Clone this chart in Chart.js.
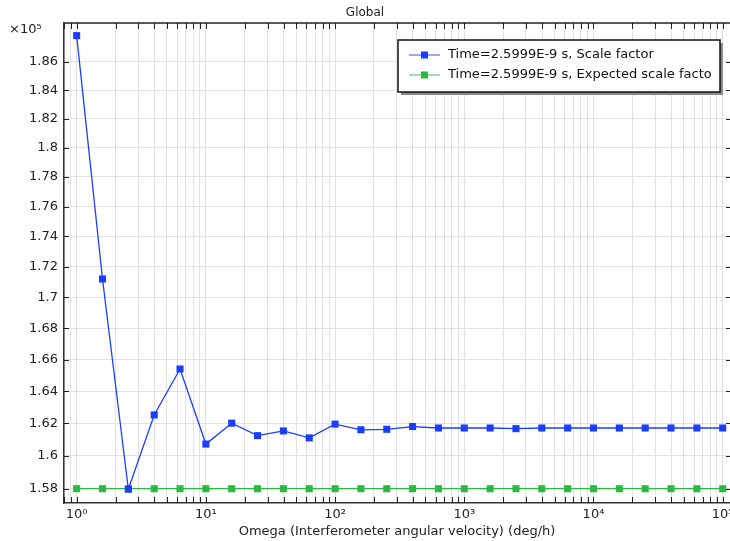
<!DOCTYPE html>
<html>
<head>
<meta charset="utf-8">
<script src="https://cdn.jsdelivr.net/npm/chart.js@4/dist/chart.umd.min.js"></script>
<style>
  body { margin: 0; background: #fff; }
  canvas { display: block; }
</style>
</head>
<body>
<canvas id="globalChart" width="730" height="541"></canvas>
<script>
// Omega values (deg/h), five per decade
const omega = [1, 1.585, 2.512, 3.981, 6.31, 10, 15.85, 25.12, 39.81, 63.1,
  100, 158.5, 251.2, 398.1, 631, 1000, 1585, 2512, 3981, 6310,
  10000, 15850, 25120, 39810, 63100, 100000];

const scaleFactor = [187880, 171190, 157970, 162520, 165400, 160720, 162010, 161240, 161530, 161100,
  161950, 161600, 161630, 161800, 161710, 161710, 161710, 161670, 161710, 161710,
  161710, 161710, 161710, 161710, 161710, 161710];

const expectedScale = [158000, 158000, 158000, 158000, 158000, 158000, 158000, 158000, 158000, 158000,
  158000, 158000, 158000, 158000, 158000, 158000, 158000, 158000, 158000, 158000,
  158000, 158000, 158000, 158000, 158000, 158000];

const seriesLabels = ['Time=2.5999E-9 s, Scale factor', 'Time=2.5999E-9 s, Expected scale factor'];
const seriesColors = ['#1a3dff', '#2bb93f'];

const yTicks = [158000, 160000, 162000, 164000, 166000, 168000, 170000, 172000,
  174000, 176000, 178000, 180000, 182000, 184000, 186000];
const xDecades = [1, 10, 100, 1000, 10000, 100000];
const xDecadeLabels = ['10⁰', '10¹', '10²', '10³', '10⁴', '10⁵'];

const FONT = 'DejaVu Sans';

function buildXTicks(min, max) {
  let ticks = [];
  for (let e = -1; e <= 5; e++) {
    for (let m = 1; m <= 9; m++) {
      let v = m * Math.pow(10, e);
      if (v >= min && v <= max) ticks.push({ value: v, major: m === 1 });
    }
  }
  return ticks;
}

function toPoints(xs, ys) {
  return xs.map((x, i) => ({ x: x, y: ys[i] }));
}

// frame, inner tick marks, x labels, the x10^5 note and the boxed legend
const decorPlugin = {
  id: 'decor',
  afterDraw(chart) {
    const ctx = chart.ctx;
    const area = chart.chartArea;
    const xs = chart.scales.x;
    const ys = chart.scales.y;
    ctx.save();
    ctx.strokeStyle = '#222';
    ctx.lineWidth = 1;
    xs.ticks.forEach(t => {
      let px = Math.round(xs.getPixelForValue(t.value)) + 0.5;
      ctx.beginPath();
      ctx.moveTo(px, area.bottom);
      ctx.lineTo(px, area.bottom - 6);
      ctx.moveTo(px, area.top);
      ctx.lineTo(px, area.top + 6);
      ctx.stroke();
    });
    ys.ticks.forEach(t => {
      let py = Math.round(ys.getPixelForValue(t.value)) + 0.5;
      ctx.beginPath();
      ctx.moveTo(area.left, py);
      ctx.lineTo(area.left + 5, py);
      ctx.moveTo(area.right, py);
      ctx.lineTo(area.right - 4, py);
      ctx.stroke();
    });
    // top frame line
    ctx.lineWidth = 1.5;
    ctx.beginPath();
    ctx.moveTo(area.left, area.top);
    ctx.lineTo(area.right, area.top);
    ctx.stroke();

    ctx.fillStyle = '#222';
    ctx.font = '13px "' + FONT + '"';
    ctx.textBaseline = 'top';
    ctx.textAlign = 'center';
    xDecades.forEach((v, i) => {
      ctx.fillText(xDecadeLabels[i], xs.getPixelForValue(v), area.bottom + 5);
    });

    ctx.textAlign = 'left';
    ctx.textBaseline = 'middle';
    ctx.fillText('×10⁵', 9, 30);

    // legend
    const bx = 398, by = 40, bw = 322, bh = 52;
    ctx.fillStyle = '#8a8a8a';
    ctx.fillRect(bx + 3, by + 3, bw, bh);
    ctx.fillStyle = '#fff';
    ctx.fillRect(bx, by, bw, bh);
    ctx.strokeStyle = '#111';
    ctx.lineWidth = 1.5;
    ctx.strokeRect(bx, by, bw, bh);
    chart.data.datasets.forEach((ds, i) => {
      let cy = 55 + i * 20;
      ctx.strokeStyle = ds.borderColor;
      ctx.globalAlpha = 0.6;
      ctx.lineWidth = 1.5;
      ctx.beginPath();
      ctx.moveTo(409, cy);
      ctx.lineTo(440, cy);
      ctx.stroke();
      ctx.globalAlpha = 1;
      ctx.fillStyle = ds.backgroundColor;
      ctx.fillRect(421, cy - 3.5, 7, 7);
      ctx.save();
      ctx.beginPath();
      ctx.rect(bx + 1, by + 1, bw - 9, bh - 2);
      ctx.clip();
      ctx.fillStyle = '#111';
      ctx.fillText(ds.label, 448, cy);
      ctx.restore();
    });
    ctx.restore();
  }
};

const chartData = {
  datasets: [
    {
      label: seriesLabels[0],
      data: toPoints(omega, scaleFactor),
      borderColor: seriesColors[0],
      backgroundColor: seriesColors[0],
      borderWidth: 1.3,
      pointStyle: 'rect',
      pointRadius: 5,
      pointBorderWidth: 0
    },
    {
      label: seriesLabels[1],
      data: toPoints(omega, expectedScale),
      borderColor: seriesColors[1],
      backgroundColor: seriesColors[1],
      borderWidth: 1.3,
      pointStyle: 'rect',
      pointRadius: 5,
      pointBorderWidth: 0
    }
  ]
};

const config = {
  type: 'line',
  data: chartData,
  options: {
    responsive: false,
    animation: false,
    layout: { padding: 0, autoPadding: false },
    plugins: {
      legend: { display: false },
      tooltip: { enabled: false },
      title: {
        display: true,
        text: 'Global',
        color: '#222',
        font: { family: FONT, size: 12, weight: 'normal' },
        padding: { top: 6, bottom: 2.6 }
      }
    },
    scales: {
      x: {
        type: 'logarithmic',
        min: 0.798,
        max: 113900,
        afterBuildTicks: (scale) => { scale.ticks = buildXTicks(scale.min, scale.max); },
        afterFit: (scale) => { scale.height = 38; scale.paddingLeft = 0; scale.paddingRight = 0; },
        grid: { color: '#e2e2e2', lineWidth: 1, drawTicks: false },
        border: { color: '#333', width: 1.5 },
        ticks: { display: false, autoSkip: false, maxRotation: 0 },
        title: {
          display: true,
          text: 'Omega (Interferometer angular velocity) (deg/h)',
          color: '#222',
          font: { family: FONT, size: 13 },
          padding: { top: 0, bottom: 2 }
        }
      },
      y: {
        type: 'logarithmic',
        min: 157140,
        max: 188790,
        afterBuildTicks: (scale) => { scale.ticks = yTicks.map(v => ({ value: v })); },
        afterFit: (scale) => { scale.width = 64; },
        grid: { color: '#e2e2e2', lineWidth: 1, drawTicks: false },
        border: { color: '#333', width: 1.5 },
        ticks: {
          padding: 6,
          color: '#222',
          font: { family: FONT, size: 13 },
          callback: (v) => String(+(v / 1e5).toFixed(2))
        }
      }
    }
  },
  plugins: [decorPlugin]
};

const globalChart = new Chart(document.getElementById('globalChart'), config);
</script>
</body>
</html>
